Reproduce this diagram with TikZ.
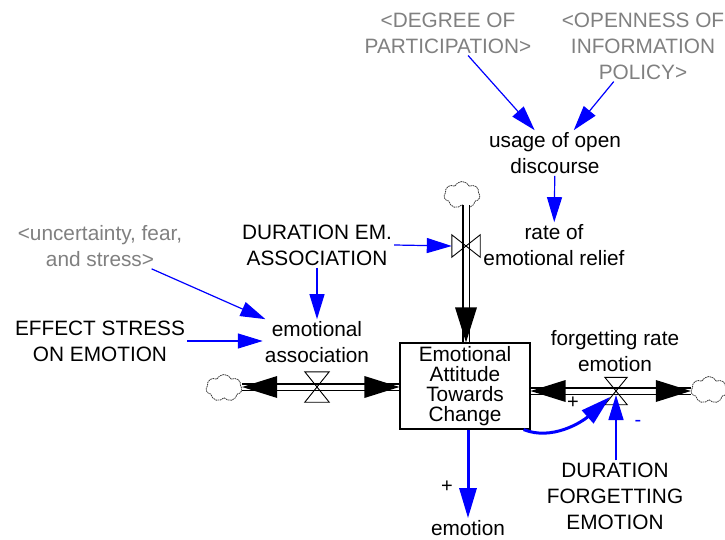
\documentclass[tikz,border=0pt]{standalone}
\usepackage{fontspec}
\setmainfont{Liberation Sans}
\usetikzlibrary{arrows.meta,calc,shapes.symbols}
\begin{document}
\begin{tikzpicture}[x=1pt,y=-1pt,
  lbl/.style={font=\fontsize{20.8}{26}\selectfont, align=center, inner sep=2pt},
  shadowvar/.style={lbl, text={rgb,255:red,128;green,128;blue,128}},
  link/.style={draw=blue, line width=1.2pt, -{Triangle[length=25pt,width=15pt]}},
  thicklink/.style={draw=blue, line width=3pt, -{Triangle[length=30pt,width=17pt]}},
  pipe/.style={draw=black, double=white, double distance=5pt, line width=1.1pt},
  cloudy/.style={cloud, cloud puffs=7, cloud puff arc=130, aspect=1.3, draw={rgb,255:red,60;green,60;blue,60}, dash pattern=on 1.6pt off 0.7pt, line width=0.8pt, minimum width=36pt, minimum height=27pt, inner sep=0pt},
  valvebox/.style={inner sep=0pt},
  pipehead/.style={fill=black},
  stockbox/.style={draw, line width=1.2pt, minimum width=130pt, minimum height=86pt, inner sep=0pt, align=center, font=\fontsize{20.8}{20}\selectfont},
  sign/.style={font=\fontsize{20}{20}\selectfont, inner sep=0pt}
]
\useasboundingbox (0,0) rectangle (725,540);

% stock
\node[stockbox] (stock) at (465,386) {Emotional\\Attitude\\Towards\\Change};

% clouds
\node[cloudy] (cL) at (224,388) {};
\node[cloudy] (cT) at (462,195) {};
\node[cloudy] (cR) at (709,390) {};

% valves
\node[valvebox, minimum width=24pt, minimum height=30pt] (v1) at (317,387) {};
\node[valvebox, minimum width=28pt, minimum height=22pt] (v2) at (466,246) {};
\node[valvebox, minimum width=22pt, minimum height=27pt] (v3) at (616,391) {};

% pipes
\draw[pipe] (cL.east |- v1) -- (stock.west |- v1);
\draw[pipe] (v2 |- cT.south) -- (v2 |- stock.north);
\draw[pipe] (stock.east |- v3) -- (cR.west |- v3);

% pipe arrowheads
\fill[pipehead] (cL.east |- v1) -- ++(35,-11) -- ++(0,22) -- cycle;
\fill[pipehead] (stock.west |- v1) -- ++(-35,-11) -- ++(0,22) -- cycle;
\fill[pipehead] (v2 |- stock.north) -- ++(-11,-35) -- ++(22,0) -- cycle;
\fill[pipehead] (stock.east |- v3) -- ++(35,-11) -- ++(0,22) -- cycle;
\fill[pipehead] (cR.west |- v3) -- ++(-35,-11) -- ++(0,22) -- cycle;

% valve bowties
\draw[line width=0.9pt] (v1.north west) -- (v1.north east) -- (v1.south west) -- (v1.south east) -- cycle;
\draw[line width=0.9pt] (v2.north west) -- (v2.south west) -- (v2.north east) -- (v2.south east) -- cycle;
\draw[line width=0.9pt] (v3.north west) -- (v3.north east) -- (v3.south west) -- (v3.south east) -- cycle;

% variables
\node[shadowvar] (degree) at (448,33) {<DEGREE OF\\PARTICIPATION>};
\node[shadowvar] (openness) at (643,46) {<OPENNESS OF\\INFORMATION\\POLICY>};
\node[lbl] (usage) at (555,153) {usage of open\\discourse};
\node[lbl] (relief) at (554,245) {rate of\\emotional relief};
\node[shadowvar] (uncert) at (100,246) {<uncertainty, fear,\\and stress>};
\node[lbl] (durem) at (317,245) {DURATION EM.\\ASSOCIATION};
\node[lbl] (effect) at (100,341) {EFFECT STRESS\\ON EMOTION};
\node[lbl] (assoc) at (317,342) {emotional\\association};
\node[lbl] (forget) at (615,351) {forgetting rate\\emotion};
\node[lbl] (durfor) at (615,496) {DURATION\\FORGETTING\\EMOTION};
\node[lbl] (emotion) at (468,528) {emotion};

% signs
\node[sign] (p1) at (447,487) {+};
\node[sign] (p2) at (573,403) {+};
\node[sign, text=blue] (m1) at (638,423) {-};

% links
\draw[link] (degree) -- (usage);
\draw[link] (openness) -- (usage);
\draw[link] (usage) -- (relief);
\draw[link] (durem.east) -- (v2.west);
\draw[link] (durem) -- (assoc);
\draw[link] (uncert) -- (assoc);
\draw[link] (effect.east) -- (assoc.west |- effect.east);
\draw[link, line width=1.5pt] (durfor.north -| v3) -- ($(v3.center)+(0,4)$);
\draw[thicklink] (stock.south -| emotion.north) -- (emotion.north);
\draw[thicklink] ($(stock.south east)+(-7,0)$) .. controls (552,441) and (582,422) .. ($(v3.center)+(-6,6)$);
\end{tikzpicture}
\end{document}
